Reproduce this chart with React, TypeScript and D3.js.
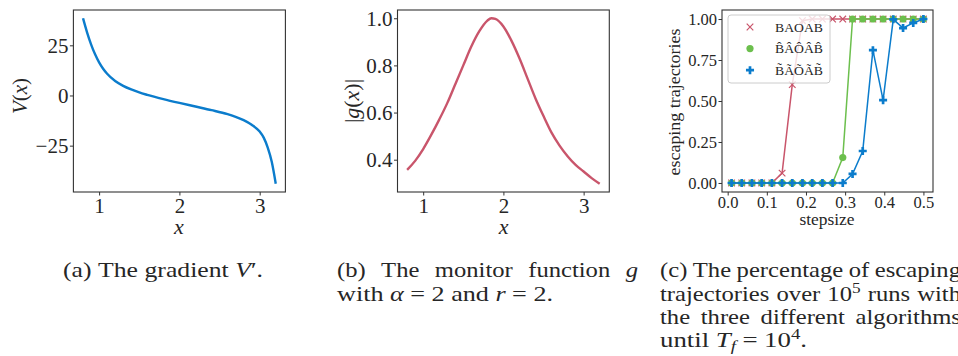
import React, { useRef, useEffect } from "react";
import * as d3 from "d3";

// (a) gradient V'(x)
const gradX = [0.8, 0.85, 0.9, 0.95, 1.0, 1.05, 1.1, 1.2, 1.3, 1.4, 1.5, 1.6, 1.8, 2.0, 2.2, 2.4, 2.6, 2.7, 2.8, 2.9, 3.0, 3.05, 3.1, 3.15, 3.2];
const gradV = [38.5, 31.5, 25.5, 20.5, 16.5, 13.3, 10.8, 7.2, 4.8, 3.0, 1.5, 0.3, -1.8, -3.7, -5.5, -7.3, -9.3, -10.6, -12.3, -14.6, -18, -21, -26, -33, -44];

// (b) monitor function |g(x)|
const monX = [0.8, 0.9, 1.0, 1.1, 1.2, 1.3, 1.4, 1.5, 1.6, 1.7, 1.8, 1.85, 1.9, 2.0, 2.1, 2.2, 2.3, 2.4, 2.5, 2.6, 2.7, 2.8, 2.9, 3.0, 3.1, 3.2];
const monG = [0.357, 0.395, 0.445, 0.505, 0.57, 0.64, 0.72, 0.8, 0.88, 0.945, 0.99, 1.0, 0.997, 0.965, 0.905, 0.83, 0.745, 0.66, 0.585, 0.515, 0.46, 0.415, 0.378, 0.35, 0.322, 0.298];

// (c) escaping trajectories vs stepsize
const stepsize = [0.01, 0.036, 0.062, 0.087, 0.113, 0.139, 0.165, 0.191, 0.216, 0.242, 0.268, 0.294, 0.319, 0.345, 0.371, 0.397, 0.423, 0.448, 0.474, 0.5];
const escBAOAB = [0, 0, 0, 0, 0, 0.06, 0.6, 0.99, 1, 1, 1, 1, 1, 1, 1, 1, 1, 1, 1, 1];
const escHat = [0, 0, 0, 0, 0, 0, 0, 0, 0, 0, 0, 0.155, 1, 1, 1, 1, 1, 1, 1, 1];
const escTilde = [0, 0, 0, 0, 0, 0, 0, 0, 0, 0, 0, 0, 0.055, 0.195, 0.81, 0.505, 0.998, 0.945, 0.976, 1];
const seriesNames = ["BAOAB", "B\u0302\u00C2\u00D4\u00C2B\u0302", "B\u0303\u00C3\u00D5\u00C3B\u0303"];

const W = 958;
const H = 356;
const ink = "#262626";
const edge = "#333";
const blue = "#0b7ccc";
const red = "#c9556b";
const green = "#6cbf4d";
const serif = "'Liberation Serif', serif";

type Seg = { t: string; it?: boolean; sup?: boolean; sub?: boolean };

// caption lines: words are plain strings or lists of segments
const captions: { x0: number; x1: number; y: number; justify: boolean; words: (string | Seg[])[] }[] = [
  { x0: 63, x1: 263, y: 277, justify: false, words: ["(a)", "The", "gradient", [{ t: "V", it: true }, { t: "\u2032." }]] },
  { x0: 337, x1: 638, y: 277, justify: true, words: ["(b)", "The", "monitor", "function", [{ t: "g", it: true }]] },
  { x0: 337, x1: 553, y: 301, justify: false, words: ["with", [{ t: "\u03B1", it: true }], "=", "2", "and", [{ t: "r", it: true }], "=", "2."] },
  { x0: 660, x1: 961, y: 277, justify: true, words: ["(c)", "The", "percentage", "of", "escaping"] },
  { x0: 660, x1: 961, y: 301, justify: true, words: ["trajectories", "over", [{ t: "10" }, { t: "5", sup: true }], "runs", "with"] },
  { x0: 660, x1: 961, y: 324, justify: true, words: ["the", "three", "different", "algorithms"] },
  { x0: 660, x1: 807, y: 347, justify: false, words: ["until", [{ t: "T", it: true }, { t: "f", it: true, sub: true }], "=", [{ t: "10" }, { t: "4", sup: true }, { t: "." }]] },
];

const App = () => {
  const svgRef = useRef<SVGSVGElement>(null);

  useEffect(() => {
    const svg = d3.select(svgRef.current);
    svg.selectAll("*").remove();

    // axes box with ticks on left and bottom
    const panel = (
      left: number, right: number, top: number, bottom: number,
      xDom: number[], yDom: number[], xTicks: number[], yTicks: number[],
      xFmt: (d: number) => string, yFmt: (d: number) => string, fs: number, xLabY: number
    ) => {
      const x = d3.scaleLinear().domain(xDom).range([left, right]);
      const y = d3.scaleLinear().domain(yDom).range([bottom, top]);
      const g = svg.append("g");
      g.append("g")
        .attr("transform", `translate(0,${bottom})`)
        .call(d3.axisBottom(x).tickValues(xTicks).tickFormat(xFmt as any).tickSize(3.5).tickPadding(0))
        .call((a) => a.select(".domain").remove())
        .call((a) => a.selectAll("line").attr("stroke", edge))
        .call((a) =>
          a.selectAll("text").attr("y", xLabY).attr("dy", 0)
            .attr("font-size", fs).attr("font-family", serif).attr("fill", ink)
        );
      g.append("g")
        .attr("transform", `translate(${left},0)`)
        .call(d3.axisLeft(y).tickValues(yTicks).tickFormat(yFmt as any).tickSize(3.5).tickPadding(0))
        .call((a) => a.select(".domain").remove())
        .call((a) => a.selectAll("line").attr("stroke", edge))
        .call((a) =>
          a.selectAll("text").attr("x", -5).attr("dy", "0.33em")
            .attr("font-size", fs).attr("font-family", serif).attr("fill", ink)
        );
      g.append("rect")
        .attr("x", left).attr("y", top)
        .attr("width", right - left).attr("height", bottom - top)
        .attr("fill", "none").attr("stroke", edge).attr("stroke-width", 1.1);
      return { x, y, g };
    };

    const minus = (d: number) => (d < 0 ? "\u2212" + Math.abs(d) : String(d));

    // ---------- (a) ----------
    const pa = panel(73.4, 285.4, 10, 192, [0.68, 3.32], [-48.1, 42.6], [1, 2, 3], [-25, 0, 25], minus, minus, 21, 21);
    const lineA = d3.line<number>().x((d, i) => pa.x(gradX[i])).y((d) => pa.y(d)).curve(d3.curveMonotoneX);
    pa.g.append("path").attr("d", lineA(gradV)).attr("fill", "none").attr("stroke", blue).attr("stroke-width", 2.4);

    const yLabA = svg.append("text").attr("transform", "translate(27,96) rotate(-90)")
      .attr("text-anchor", "middle").attr("font-family", serif).attr("font-size", 21).attr("fill", ink);
    yLabA.append("tspan").attr("font-style", "italic").text("V");
    yLabA.append("tspan").text("(");
    yLabA.append("tspan").attr("font-style", "italic").text("x");
    yLabA.append("tspan").text(")");
    svg.append("text").attr("x", 179).attr("y", 234).attr("text-anchor", "middle")
      .attr("font-family", serif).attr("font-size", 22).attr("font-style", "italic").attr("fill", ink).text("x");

    // ---------- (b) ----------
    const pb = panel(397.5, 609.3, 10, 192, [0.68, 3.32], [0.263, 1.035], [1, 2, 3], [0.4, 0.6, 0.8, 1.0], String, d3.format(".1f"), 21, 21);
    const lineB = d3.line<number>().x((d, i) => pb.x(monX[i])).y((d) => pb.y(d)).curve(d3.curveMonotoneX);
    pb.g.append("path").attr("d", lineB(monG)).attr("fill", "none").attr("stroke", red).attr("stroke-width", 2.4);

    const yLabB = svg.append("text").attr("transform", "translate(359,101) rotate(-90)")
      .attr("text-anchor", "middle").attr("font-family", serif).attr("font-size", 22).attr("fill", ink);
    yLabB.append("tspan").text("|");
    yLabB.append("tspan").attr("font-style", "italic").text("g");
    yLabB.append("tspan").text("(");
    yLabB.append("tspan").attr("font-style", "italic").text("x");
    yLabB.append("tspan").text(")|");
    svg.append("text").attr("x", 503.7).attr("y", 234).attr("text-anchor", "middle")
      .attr("font-family", serif).attr("font-size", 22).attr("font-style", "italic").attr("fill", ink).text("x");

    // ---------- (c) ----------
    const pc = panel(722, 933, 10, 192, [-0.0145, 0.5245], [-0.055, 1.055],
      [0, 0.1, 0.2, 0.3, 0.4, 0.5], [0, 0.25, 0.5, 0.75, 1], d3.format(".1f"), d3.format(".2f"), 16.5, 15.5);

    const series = [
      { vals: escBAOAB, color: red, mark: "x" },
      { vals: escHat, color: green, mark: "o" },
      { vals: escTilde, color: blue, mark: "P" },
    ];
    const plus = d3.symbol().type(d3.symbolCross).size(36)();
    const drawMark = (sel: any, mark: string, color: string) => {
      if (mark === "x") {
        sel.append("path").attr("d", "M-3.3,-3.3L3.3,3.3M-3.3,3.3L3.3,-3.3")
          .attr("stroke", color).attr("stroke-width", 1.2).attr("fill", "none");
      } else if (mark === "o") {
        sel.append("circle").attr("r", 3.6).attr("fill", color);
      } else {
        sel.append("path").attr("d", plus).attr("fill", color);
      }
    };
    series.forEach((s) => {
      const ln = d3.line<number>().x((d, i) => pc.x(stepsize[i])).y((d) => pc.y(d));
      pc.g.append("path").attr("d", ln(s.vals)).attr("fill", "none").attr("stroke", s.color).attr("stroke-width", 1.5);
      s.vals.forEach((v, i) => {
        const m = pc.g.append("g").attr("transform", `translate(${pc.x(stepsize[i])},${pc.y(v)})`);
        drawMark(m, s.mark, s.color);
      });
    });

    // legend
    const leg = svg.append("g");
    leg.append("rect").attr("x", 728).attr("y", 15).attr("width", 102).attr("height", 68).attr("rx", 3)
      .attr("fill", "#fff").attr("fill-opacity", 0.8).attr("stroke", "#cccccc").attr("stroke-width", 1);
    series.forEach((s, i) => {
      const ry = 27 + i * 21.6;
      drawMark(leg.append("g").attr("transform", `translate(750,${ry})`), s.mark, s.color);
      leg.append("text").attr("x", 775).attr("y", ry + 4.6).attr("font-family", serif).attr("font-size", 13.5)
        .attr("fill", ink).attr("textLength", 48).attr("lengthAdjust", "spacingAndGlyphs").text(seriesNames[i]);
    });

    svg.append("text").attr("transform", "translate(680,102) rotate(-90)").attr("text-anchor", "middle")
      .attr("font-family", serif).attr("font-size", 16.5).attr("fill", ink)
      .attr("textLength", 147).attr("lengthAdjust", "spacingAndGlyphs").text("escaping trajectories");
    svg.append("text").attr("x", 827).attr("y", 225).attr("text-anchor", "middle")
      .attr("font-family", serif).attr("font-size", 16.5).attr("fill", ink)
      .attr("textLength", 55).attr("lengthAdjust", "spacingAndGlyphs").text("stepsize");

    // ---------- captions ----------
    const capFs = 22;
    captions.forEach((line) => {
      const items = line.words.map((w) => {
        const segs: Seg[] = typeof w === "string" ? [{ t: w }] : w;
        const wg = svg.append("g");
        const txt = wg.append("text").attr("font-family", serif).attr("font-size", capFs).attr("fill", ink);
        let shift = 0;
        segs.forEach((s) => {
          const target = s.sup ? -0.38 * capFs : s.sub ? 0.2 * capFs : 0;
          txt.append("tspan").attr("dy", target - shift)
            .attr("font-size", s.sup || s.sub ? capFs * 0.7 : null)
            .attr("font-style", s.it ? "italic" : null).text(s.t);
          shift = target;
        });
        const w0 = (txt.node() as SVGTextElement).getComputedTextLength();
        return { wg, w0 };
      });
      const sum = d3.sum(items, (d) => d.w0);
      const n = items.length;
      let sx = 1.12;
      let gap = 6.5;
      if (line.justify) {
        gap = (line.x1 - line.x0 - sum * sx) / (n - 1);
      } else {
        sx = (line.x1 - line.x0 - gap * (n - 1)) / sum;
      }
      let cx = line.x0;
      items.forEach((it) => {
        it.wg.attr("transform", `translate(${cx},${line.y}) scale(${sx},1)`);
        cx += it.w0 * sx + gap;
      });
    });
  }, []);

  return (
    <svg ref={svgRef} width={W} height={H}
      style={{ position: "absolute", left: 0, top: 0, background: "#fff" }} />
  );
};

export default App;
